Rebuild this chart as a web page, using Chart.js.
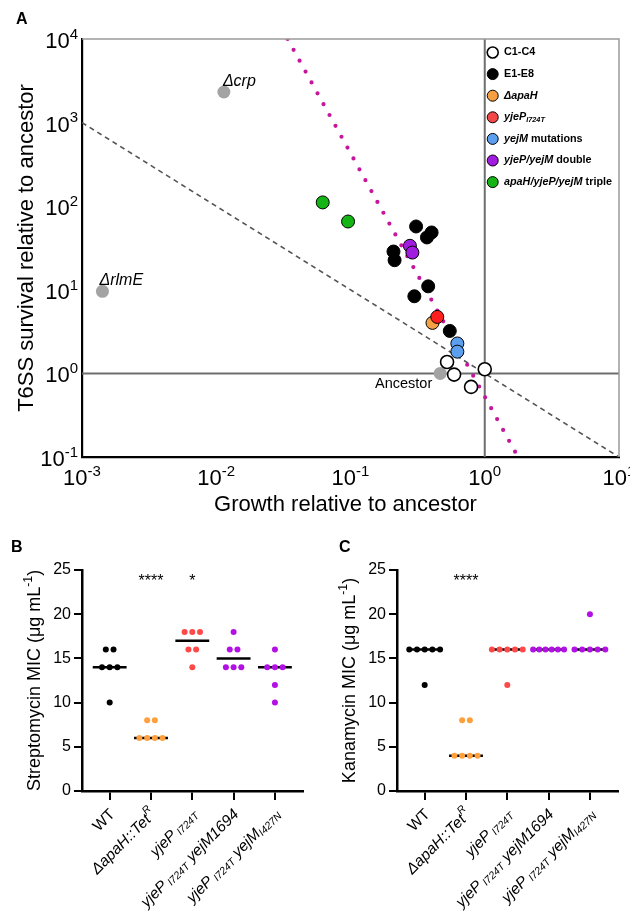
<!DOCTYPE html>
<html><head><meta charset="utf-8">
<script src="https://cdn.jsdelivr.net/npm/chart.js@4.4.1/dist/chart.umd.min.js"></script>
<style>
html,body{margin:0;padding:0;background:#fff;}
#wrap{position:relative;width:630px;height:916px;overflow:hidden;background:#fff;}
canvas{position:absolute;}
</style></head><body>
<div id="wrap">
<canvas id="cA" width="630" height="525" style="left:0;top:0"></canvas>
<canvas id="cB" width="315" height="386" style="left:0;top:530px"></canvas>
<canvas id="cC" width="315" height="386" style="left:315px;top:530px"></canvas>
</div>
<script>
// ---------------- Panel A data ----------------
const c14Growth   = [0.524, 0.591, 0.791, 1.0];
const c14Survival = [1.37, 0.968, 0.689, 1.12];
const e18Growth   = [0.308, 0.371, 0.402, 0.209, 0.213, 0.379, 0.299, 0.549];
const e18Survival = [57.2, 42.3, 48.5, 28.7, 22.6, 11.0, 8.37, 3.22];
const apaHGrowth  = [0.408];
const apaHSurvival= [4.02];
const yjePGrowth  = [0.443];
const yjePSurvival= [4.74];
const yejMGrowth  = [0.625, 0.625];
const yejMSurvival= [2.28, 1.82];
const doubleGrowth  = [0.277, 0.289];
const doubleSurvival= [33.6, 27.9];
const tripleGrowth  = [0.0621, 0.0959];
const tripleSurvival= [111, 65.6];
const refNames    = ['Δcrp', 'ΔrlmE', 'Ancestor'];
const refGrowth   = [0.0114, 0.00142, 0.466];
const refSurvival = [2323, 9.6, 1.0];
const neutralLineGrowth   = [0.001, 10];
const neutralLineSurvival = [1000, 0.1];
const fitLineGrowth   = [0.034, 1.77];
const fitLineSurvival = [10000, 0.1];
const growthTickExp   = [-3, -2, -1, 0, 1];
const survivalTickExp = [-1, 0, 1, 2, 3, 4];
const groupNames = ['C1-C4','E1-E8','ΔapaH','yjeP I724T','yejM mutations','yjeP/yejM double','apaH/yjeP/yejM triple'];

// ---------------- Panels B / C data ----------------
const micCategories = ['WT','ΔapaH::TetR','yjeP I724T','yjeP I724T yejM1694','yjeP I724T yejM I427N'];
const strepWT    = [16,16,14,14,14,10];
const strepApaH  = [8,8,6,6,6,6];
const strepYjeP  = [18,18,18,16,16,14];
const strepY1694 = [18,16,16,14,14,14];
const strepI427N = [16,14,14,14,12,10];
const kanaWT     = [16,16,16,16,16,12];
const kanaApaH   = [8,8,4,4,4,4];
const kanaYjeP   = [16,16,16,16,16,12];
const kanaY1694  = [16,16,16,16,16,16];
const kanaI427N  = [20,16,16,16,16,16];
const micTicks   = [0,5,10,15,20,25];
const strepStars = [{cat:1, t:'****'}, {cat:2, t:'*'}];
const kanaStars  = [{cat:1, t:'****'}];

const FONT = '"Liberation Sans", Arial, Helvetica, sans-serif';

// ---------- rich text helpers ----------
function segSize(s, size){ return (s.sub||s.sup) ? size*0.68 : size; }
function segDy(s, size){ return s.sub ? size*0.22 : (s.sup ? -size*0.42 : 0); }
function fontStr(s, size, bold){ return (s.i?'italic ':'') + ((bold||s.b)?'bold ':'') + size.toFixed(1) + 'px ' + FONT; }
function measureRich(ctx, segs, size, bold){
  let w = 0;
  segs.forEach(s => { ctx.font = fontStr(s, segSize(s,size), bold); w += ctx.measureText(s.t).width; });
  return w;
}
function drawRich(ctx, segs, x, y, size, bold, align){
  const w = measureRich(ctx, segs, size, bold);
  let cx = align === 'right' ? x - w : (align === 'center' ? x - w/2 : x);
  ctx.textAlign = 'left';
  segs.forEach(s => {
    ctx.font = fontStr(s, segSize(s,size), bold);
    ctx.fillText(s.t, cx, y + segDy(s,size));
    cx += ctx.measureText(s.t).width;
  });
}
function pts(xs, ys){ return xs.map((x,i) => ({x:x, y:ys[i]})); }

// ---------------- Panel A ----------------
const colA = {white:'#ffffff', black:'#000000', orange:'#F7A043', red:'#FF1F1F', blue:'#5B9FEE', purple:'#A21CE0', green:'#14B414', gray:'#A3A3A3'};
const legendItems = [
  {c:colA.white, segs:[{t:'C1-C4'}]},
  {c:colA.black, segs:[{t:'E1-E8'}]},
  {c:colA.orange, segs:[{t:'ΔapaH', i:true}]},
  {c:'#F24848', segs:[{t:'yjeP', i:true},{t:'I724T', i:true, sub:true}]},
  {c:colA.blue, segs:[{t:'yejM', i:true},{t:' mutations'}]},
  {c:colA.purple, segs:[{t:'yjeP/yejM', i:true},{t:' double'}]},
  {c:colA.green, segs:[{t:'apaH/yjeP/yejM', i:true},{t:' triple'}]},
];
const refLabelStyle = [
  {dx:-1, dy:-6, align:'left', font:'italic 16px '+FONT},
  {dx:-3, dy:-6, align:'left', font:'italic 16px '+FONT},
  {dx:-8, dy:15, align:'right', font:'14.5px '+FONT},
];

function scat(xs, ys, fill, order, border){
  return {data: pts(xs, ys), backgroundColor: fill, borderColor:'#000', borderWidth: border, pointRadius: 6.5, pointHoverRadius:6.5, order: order};
}

const panelAPlugin = {
  id:'panelA',
  afterDraw(chart){
    const {ctx, chartArea:ca, scales:{x, y}} = chart;
    ctx.save();
    ctx.strokeStyle = '#9a9a9a'; ctx.lineWidth = 1.5;
    ctx.beginPath(); ctx.moveTo(ca.left, ca.top); ctx.lineTo(ca.right, ca.top); ctx.lineTo(ca.right, ca.bottom); ctx.stroke();
    ctx.fillStyle = '#000'; ctx.textBaseline = 'alphabetic';
    growthTickExp.forEach(k => {
      const px = x.getPixelForValue(Math.pow(10,k));
      drawRich(ctx, [{t:'10'},{t:String(k), sup:true}], px, 485, 22, false, 'center');
    });
    survivalTickExp.forEach(k => {
      const py = y.getPixelForValue(Math.pow(10,k));
      drawRich(ctx, [{t:'10'},{t:String(k), sup:true}], 78, py + 9, 22, false, 'right');
    });
    // axis titles
    ctx.font = '22px ' + FONT; ctx.textAlign = 'center';
    ctx.fillText('Growth relative to ancestor', (ca.left+ca.right)/2 - 5, 511);
    ctx.save(); ctx.translate(33, (ca.top+ca.bottom)/2); ctx.rotate(-Math.PI/2);
    ctx.fillText('T6SS survival relative to ancestor', 0, 0); ctx.restore();
    // panel letter
    ctx.font = 'bold 16px ' + FONT; ctx.textAlign = 'left';
    ctx.fillText('A', 16, 24);
    // reference strain labels
    refNames.forEach((n,i) => {
      const px = x.getPixelForValue(refGrowth[i]), py = y.getPixelForValue(refSurvival[i]);
      const st = refLabelStyle[i];
      ctx.font = st.font; ctx.textAlign = st.align;
      ctx.fillText(n, px + st.dx, py + st.dy);
    });
    // legend
    ctx.textBaseline = 'middle';
    legendItems.forEach((it, i) => {
      const ly = 52.5 + i*21.6;
      ctx.beginPath(); ctx.arc(492.7, ly, 5.5, 0, Math.PI*2);
      ctx.fillStyle = it.c; ctx.fill();
      ctx.lineWidth = it.c === colA.white ? 1.6 : 1; ctx.strokeStyle = '#000'; ctx.stroke();
      ctx.fillStyle = '#000';
      drawRich(ctx, it.segs, 504, ly, 10.8, true, 'left');
    });
    ctx.restore();
  }
};

new Chart(document.getElementById('cA'), {
  type:'scatter',
  data:{datasets:[
    {data: pts([0.001,10],[1,1]), showLine:true, borderColor:'#6e6e6e', borderWidth:2, pointRadius:0, order:20},
    {data: pts([1,1],[0.1,10000]), showLine:true, borderColor:'#6e6e6e', borderWidth:2, pointRadius:0, order:20},
    {data: pts(neutralLineGrowth, neutralLineSurvival), showLine:true, borderColor:'#555', borderWidth:1.6, borderDash:[5,4], pointRadius:0, order:19},
    {data: pts(fitLineGrowth, fitLineSurvival), showLine:true, borderColor:'#C4179C', borderWidth:4.2, borderDash:[0,12.4], borderCapStyle:'round', pointRadius:0, order:18},
    {data: pts(refGrowth, refSurvival), backgroundColor: colA.gray, borderWidth:0, pointRadius:6.5, order:10},
    scat(c14Growth, c14Survival, colA.white, 9, 1.6),
    scat(e18Growth, e18Survival, colA.black, 8, 1),
    scat(apaHGrowth, apaHSurvival, colA.orange, 7, 1),
    scat(yjePGrowth, yjePSurvival, colA.red, 6, 1),
    scat(yejMGrowth, yejMSurvival, colA.blue, 5, 1),
    scat(doubleGrowth, doubleSurvival, colA.purple, 4, 1),
    scat(tripleGrowth, tripleSurvival, colA.green, 3, 1),
  ]},
  options:{
    responsive:false, animation:false, devicePixelRatio:1,
    layout:{padding:{top:39, right:11, left:0, bottom:0}, autoPadding:false},
    plugins:{legend:{display:false}, tooltip:{enabled:false}},
    scales:{
      x:{type:'logarithmic', min:0.001, max:10, ticks:{display:false}, grid:{display:false},
         border:{display:true, color:'#000', width:2.2}, afterFit(s){ s.height = 68; }},
      y:{type:'logarithmic', min:0.1, max:10000, ticks:{display:false}, grid:{display:false},
         border:{display:true, color:'#000', width:2.2}, afterFit(s){ s.width = 82; }}
    }
  },
  plugins:[panelAPlugin]
});

// ---------------- Panels B / C ----------------
const micColors = ['#000000', '#FFA03C', '#FF4848', '#B210E4', '#B210E4'];
const micLabelRich = [
  [{t:'WT'}],
  [{t:'ΔapaH::Tet', i:true},{t:'R', i:true, sup:true}],
  [{t:'yjeP', i:true},{t:' I724T', i:true, sub:true}],
  [{t:'yjeP', i:true},{t:' I724T', i:true, sub:true},{t:' yejM1694', i:true}],
  [{t:'yjeP', i:true},{t:' I724T', i:true, sub:true},{t:' yejM', i:true},{t:'I427N', i:true, sub:true}],
];
function median(v){ const s=[...v].sort((a,b)=>a-b); const n=s.length; return n%2 ? s[(n-1)/2] : (s[n/2-1]+s[n/2])/2; }

function micChart(id, groups, titleSegs, letter, stars){
  const PX_PER_UNIT = 41.3;
  const datasets = [];
  groups.forEach((vals, i) => {
    const counts = {}; vals.forEach(v => counts[v] = (counts[v]||0) + 1);
    const seen = {};
    const data = vals.map(v => {
      const n = counts[v]; seen[v] = (seen[v] === undefined ? 0 : seen[v] + 1);
      const stepPx = n > 1 ? Math.min(7.7, 31/(n-1)) : 0;
      return {x: i + (seen[v] - (n-1)/2) * stepPx / PX_PER_UNIT, y: v};
    });
    datasets.push({data, backgroundColor: micColors[i], borderWidth:0, pointRadius:3, pointHoverRadius:3, order:1});
    const m = median(vals);
    datasets.push({data: [{x:i-0.41, y:m},{x:i+0.41, y:m}], showLine:true, borderColor:'#000', borderWidth:2.5, pointRadius:0, order:2});
  });
  const plug = {
    id:'mic'+id,
    afterDraw(chart){
      const {ctx, chartArea:ca, scales:{x, y}} = chart;
      ctx.save(); ctx.fillStyle = '#000';
      // category labels
      ctx.textBaseline = 'middle';
      micLabelRich.forEach((segs, i) => {
        const px = x.getPixelForValue(i);
        ctx.save(); ctx.translate(px + 3, ca.bottom + 21); ctx.rotate(-Math.PI/4);
        drawRich(ctx, segs, 0, 0, 15.5, false, 'right');
        ctx.restore();
      });
      // y title
      ctx.textBaseline = 'alphabetic';
      ctx.save(); ctx.translate(40, (ca.top+ca.bottom)/2); ctx.rotate(-Math.PI/2);
      drawRich(ctx, titleSegs, 0, 0, 18, false, 'center');
      ctx.restore();
      // stars
      ctx.font = '16px ' + FONT; ctx.textAlign = 'center';
      stars.forEach(s => ctx.fillText(s.t, x.getPixelForValue(s.cat), y.getPixelForValue(25) + 16));
      // letter
      ctx.font = 'bold 16px ' + FONT; ctx.textAlign = 'left';
      ctx.fillText(letter, letter === 'B' ? 11 : 24, 22);
      ctx.restore();
    }
  };
  new Chart(document.getElementById(id), {
    type:'scatter',
    data:{datasets},
    options:{
      responsive:false, animation:false, devicePixelRatio:1,
      layout:{padding:{top:40, right:12, left:0, bottom:0}, autoPadding:false},
      plugins:{legend:{display:false}, tooltip:{enabled:false}},
      scales:{
        x:{type:'linear', min:-0.67, max:4.68,
           afterBuildTicks(s){ s.ticks = micCategories.map((c,i) => ({value:i})); },
           ticks:{display:false},
           grid:{display:true, drawOnChartArea:false, drawTicks:true, tickLength:9, color:'#000', lineWidth:2},
           border:{display:true, color:'#000', width:2.5},
           afterFit(s){ s.height = 125; }},
        y:{type:'linear', min:0, max:25,
           afterBuildTicks(s){ s.ticks = micTicks.map(v => ({value:v})); },
           ticks:{color:'#000', font:{family:FONT, size:16}, padding:3},
           grid:{display:true, drawOnChartArea:false, drawTicks:true, tickLength:8, color:'#000', lineWidth:2},
           border:{display:true, color:'#000', width:2.5},
           afterFit(s){ s.width = 82; }}
      }
    },
    plugins:[plug]
  });
}

micChart('cB', [strepWT, strepApaH, strepYjeP, strepY1694, strepI427N],
  [{t:'Streptomycin MIC (μg mL'},{t:'-1', sup:true},{t:')'}], 'B', strepStars);
micChart('cC', [kanaWT, kanaApaH, kanaYjeP, kanaY1694, kanaI427N],
  [{t:'Kanamycin MIC (μg mL'},{t:'-1', sup:true},{t:')'}], 'C', kanaStars);
</script>
</body></html>
